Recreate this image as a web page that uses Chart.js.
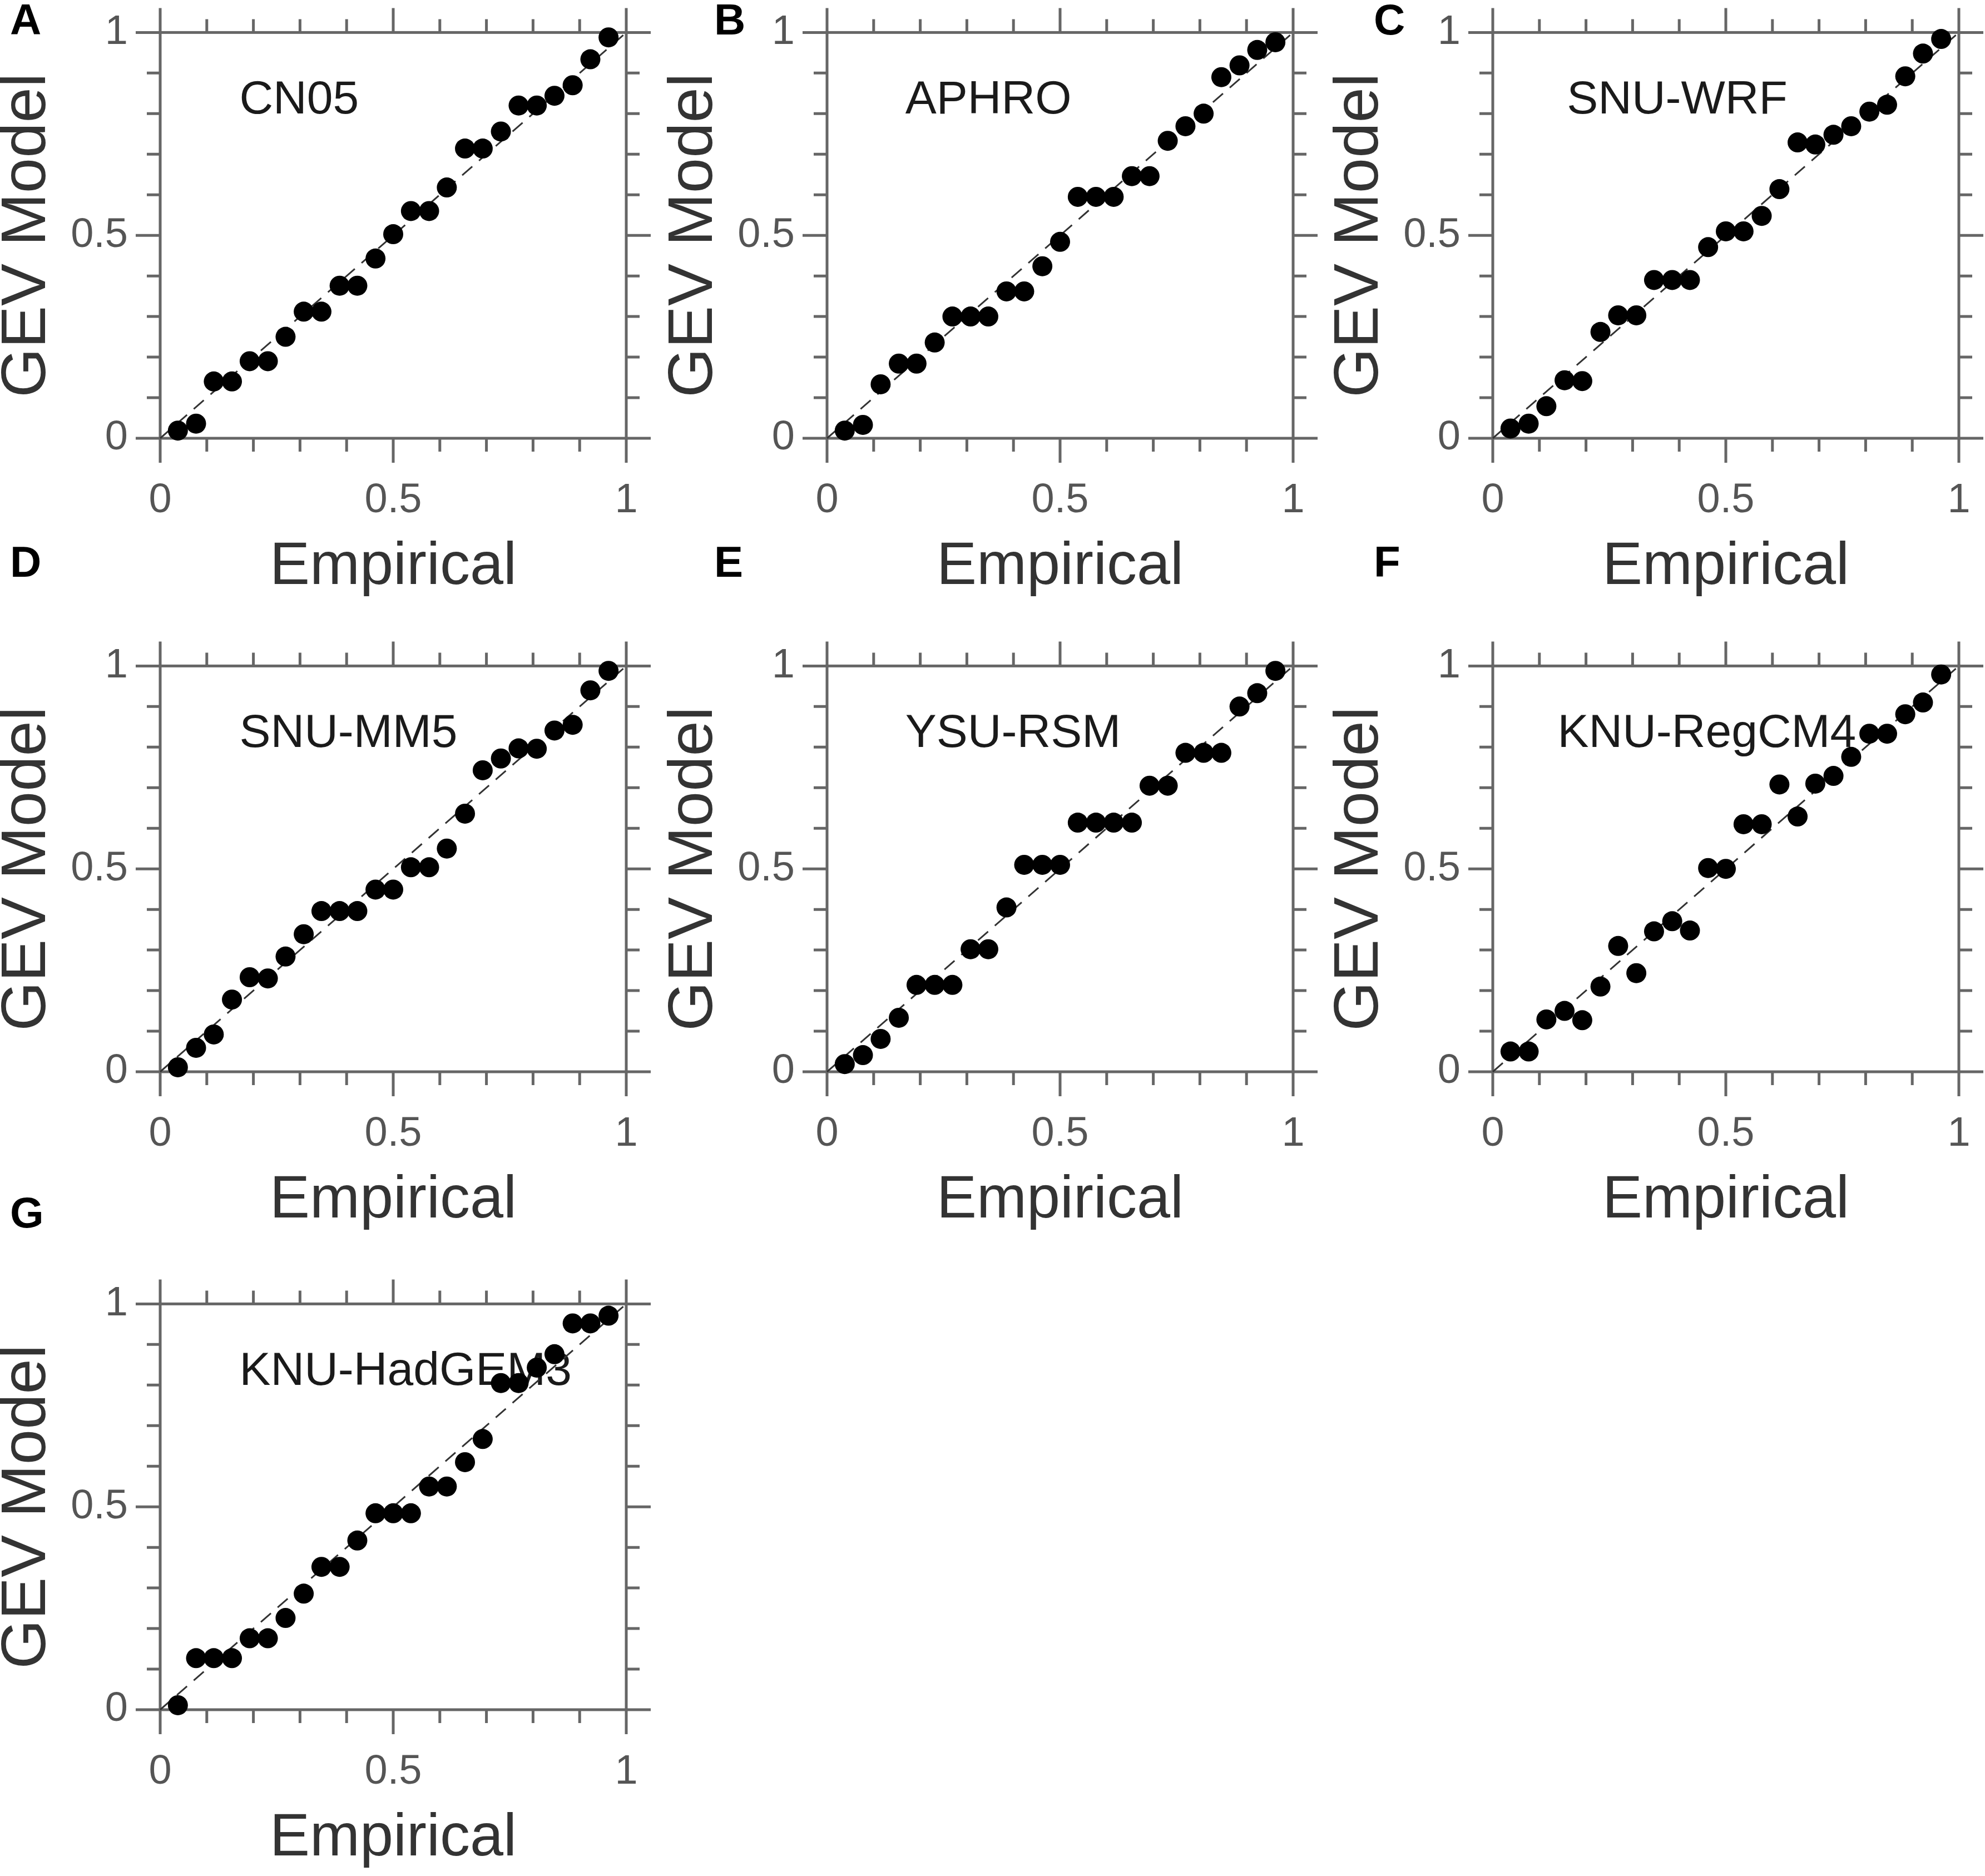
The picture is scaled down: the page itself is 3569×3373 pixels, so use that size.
<!doctype html>
<html lang="en">
  <head>
    <meta charset="utf-8">
    <title>GEV Q-Q plots</title>
    <script src="https://cdn.jsdelivr.net/npm/chart.js"></script>
    <style>
      html, body { margin: 0; padding: 0; background: #fff; }
      body { width: 3569px; height: 3373px; position: relative; overflow: hidden; }
      .qq-panel { position: absolute; }
      .qq-letter {
        position: absolute;
        font-family: "Liberation Sans", Arial, sans-serif;
        font-weight: bold;
        font-size: 78px;
        line-height: 78px;
        color: #000;
      }
    </style>
  </head>
  <body>
    <script>
      // empirical plotting positions, shared by every panel
      const EMPIRICAL = [0.038, 0.077, 0.115, 0.154, 0.192, 0.231, 0.269, 0.308, 0.346, 0.385,
                         0.423, 0.462, 0.500, 0.538, 0.577, 0.615, 0.654, 0.692, 0.731, 0.769,
                         0.808, 0.846, 0.885, 0.923, 0.962];

      // GEV model quantiles
      const CN05 = [0.019, 0.036, 0.140, 0.140, 0.190, 0.190, 0.250, 0.312, 0.312, 0.376,
                    0.376, 0.443, 0.503, 0.560, 0.560, 0.618, 0.714, 0.714, 0.756, 0.820,
                    0.820, 0.844, 0.870, 0.934, 0.988];
      const APHRO = [0.019, 0.033, 0.133, 0.184, 0.184, 0.236, 0.300, 0.300, 0.300, 0.362,
                     0.362, 0.424, 0.484, 0.595, 0.595, 0.595, 0.646, 0.646, 0.733, 0.769,
                     0.800, 0.890, 0.919, 0.957, 0.976];
      const SNU_WRF = [0.024, 0.036, 0.079, 0.143, 0.141, 0.262, 0.303, 0.303, 0.390, 0.390,
                       0.390, 0.471, 0.510, 0.510, 0.548, 0.614, 0.729, 0.724, 0.748, 0.769,
                       0.805, 0.822, 0.892, 0.948, 0.984];
      const SNU_MM5 = [0.011, 0.059, 0.092, 0.178, 0.233, 0.230, 0.284, 0.339, 0.396, 0.396,
                       0.396, 0.449, 0.449, 0.504, 0.504, 0.550, 0.636, 0.743, 0.772, 0.797,
                       0.796, 0.841, 0.855, 0.940, 0.988];
      const YSU_RSM = [0.019, 0.041, 0.081, 0.133, 0.214, 0.214, 0.214, 0.302, 0.302, 0.405,
                       0.510, 0.510, 0.510, 0.614, 0.614, 0.614, 0.614, 0.705, 0.705, 0.786,
                       0.786, 0.786, 0.900, 0.933, 0.988];
      const KNU_REGCM4 = [0.050, 0.050, 0.129, 0.150, 0.127, 0.210, 0.310, 0.243, 0.346, 0.371,
                          0.348, 0.502, 0.500, 0.610, 0.610, 0.708, 0.629, 0.710, 0.729, 0.776,
                          0.833, 0.833, 0.881, 0.910, 0.979];
      const KNU_HADGEM3 = [0.011, 0.127, 0.127, 0.127, 0.176, 0.176, 0.226, 0.286, 0.352, 0.352,
                           0.417, 0.484, 0.484, 0.484, 0.550, 0.550, 0.610, 0.667, 0.805, 0.805,
                           0.843, 0.876, 0.952, 0.952, 0.971];

      // 1:1 reference line
      const REF_LINE = [{ x: 0, y: 0 }, { x: 1, y: 1 }];

      // axis ticks
      const TICK_VALUES = [0, 0.5, 1];
      const TICK_LABELS = ['0', '0.5', '1'];
      const MINOR_TICKS = [0.1, 0.2, 0.3, 0.4, 0.6, 0.7, 0.8, 0.9];

      const FONT = '"Liberation Sans", Arial, sans-serif';
      const AXIS_GRAY = '#666';

      // plot-area geometry on the page
      const COL_LEFT = [288, 1487, 2684];
      const ROW_TOP = [53, 1192, 2339];
      const LETTER_LEFT = [18, 1284, 2470];
      const LETTER_MID = [35, 1010, 2180];
      const PLOT_W = 838, PLOT_H = 735;
      const PAD_L = 288, PAD_T = 53, PAD_R = 48, PAD_B = 300;

      const panels = [
        { letter: 'A', name: 'CN05',        values: CN05,        col: 0, row: 0, labelX: 0.170 },
        { letter: 'B', name: 'APHRO',       values: APHRO,       col: 1, row: 0, labelX: 0.168 },
        { letter: 'C', name: 'SNU-WRF',     values: SNU_WRF,     col: 2, row: 0, labelX: 0.159 },
        { letter: 'D', name: 'SNU-MM5',     values: SNU_MM5,     col: 0, row: 1, labelX: 0.170 },
        { letter: 'E', name: 'YSU-RSM',     values: YSU_RSM,     col: 1, row: 1, labelX: 0.168 },
        { letter: 'F', name: 'KNU-RegCM4',  values: KNU_REGCM4,  col: 2, row: 1, labelX: 0.139 },
        { letter: 'G', name: 'KNU-HadGEM3', values: KNU_HADGEM3, col: 0, row: 2, labelX: 0.170 }
      ];

      // box with outward ticks on all four sides, plus the model name
      const qqFrame = {
        id: 'qqFrame',
        beforeDatasetsDraw(chart, args, opts) {
          const { ctx, chartArea: a, scales: { x, y } } = chart;
          ctx.save();
          ctx.strokeStyle = AXIS_GRAY;
          ctx.lineWidth = 5;
          ctx.lineCap = 'butt';
          const ticks = (values, len) => {
            ctx.beginPath();
            values.forEach(v => {
              const px = x.getPixelForValue(v);
              const py = y.getPixelForValue(v);
              ctx.moveTo(px, a.bottom); ctx.lineTo(px, a.bottom + len);
              ctx.moveTo(px, a.top);    ctx.lineTo(px, a.top - len);
              ctx.moveTo(a.left, py);   ctx.lineTo(a.left - len, py);
              ctx.moveTo(a.right, py);  ctx.lineTo(a.right + len, py);
            });
            ctx.stroke();
          };
          ticks(MINOR_TICKS, 24);
          ticks(TICK_VALUES, 44);
          ctx.strokeRect(a.left, a.top, a.width, a.height);

          ctx.fillStyle = '#1a1a1a';
          ctx.font = '84px ' + FONT;
          ctx.textAlign = 'left';
          ctx.textBaseline = 'alphabetic';
          ctx.fillText(opts.text, x.getPixelForValue(opts.x), y.getPixelForValue(0.80));
          ctx.restore();
        }
      };

      function axis(title, isX) {
        return {
          type: 'linear',
          position: isX ? 'bottom' : 'left',
          min: 0,
          max: 1,
          afterBuildTicks: s => { s.ticks = TICK_VALUES.map(v => ({ value: v })); },
          afterFit: s => { if (isX) s.height = PAD_B; else s.width = PAD_L; },
          ticks: {
            autoSkip: false,
            maxRotation: 0,
            padding: isX ? 24 : 14,
            color: '#555',
            font: { family: FONT, size: 74 },
            callback: v => TICK_LABELS[TICK_VALUES.indexOf(v)]
          },
          grid: { display: true, drawOnChartArea: false, drawTicks: true, tickLength: 44, color: 'rgba(0,0,0,0)' },
          border: { display: false },
          title: {
            display: true,
            text: title,
            color: '#333',
            font: { family: FONT, size: isX ? 108 : 114, lineHeight: 1 },
            padding: isX ? { top: 0, bottom: 14 } : { top: -7, bottom: 0 }
          }
        };
      }

      panels.forEach(p => {
        const box = document.createElement('div');
        box.className = 'qq-panel';
        box.style.left = (COL_LEFT[p.col] - PAD_L) + 'px';
        box.style.top = (ROW_TOP[p.row] - PAD_T) + 'px';
        const canvas = document.createElement('canvas');
        canvas.width = PAD_L + PLOT_W + PAD_R;
        canvas.height = PAD_T + PLOT_H + PAD_B;
        box.appendChild(canvas);
        document.body.appendChild(box);

        const letter = document.createElement('div');
        letter.className = 'qq-letter';
        letter.textContent = p.letter;
        letter.style.left = LETTER_LEFT[p.col] + 'px';
        letter.style.top = (LETTER_MID[p.row] - 39) + 'px';
        document.body.appendChild(letter);

        new Chart(canvas, {
          data: {
            datasets: [
              {
                type: 'line',
                data: REF_LINE,
                borderColor: '#333',
                borderWidth: 3,
                borderDash: [24, 16],
                pointRadius: 0,
                order: 2,
                clip: false
              },
              {
                type: 'scatter',
                data: EMPIRICAL.map((x, i) => ({ x: x, y: p.values[i] })),
                backgroundColor: '#000',
                borderWidth: 0,
                pointRadius: 18,
                pointHoverRadius: 18,
                order: 1,
                clip: false
              }
            ]
          },
          options: {
            responsive: false,
            animation: false,
            devicePixelRatio: 1,
            layout: { padding: { left: 0, top: PAD_T, right: PAD_R, bottom: 0 } },
            scales: { x: axis('Empirical', true), y: axis('GEV Model', false) },
            plugins: {
              legend: { display: false },
              tooltip: { enabled: false },
              qqFrame: { text: p.name, x: p.labelX }
            }
          },
          plugins: [qqFrame]
        });
      });
    </script>
  </body>
</html>
